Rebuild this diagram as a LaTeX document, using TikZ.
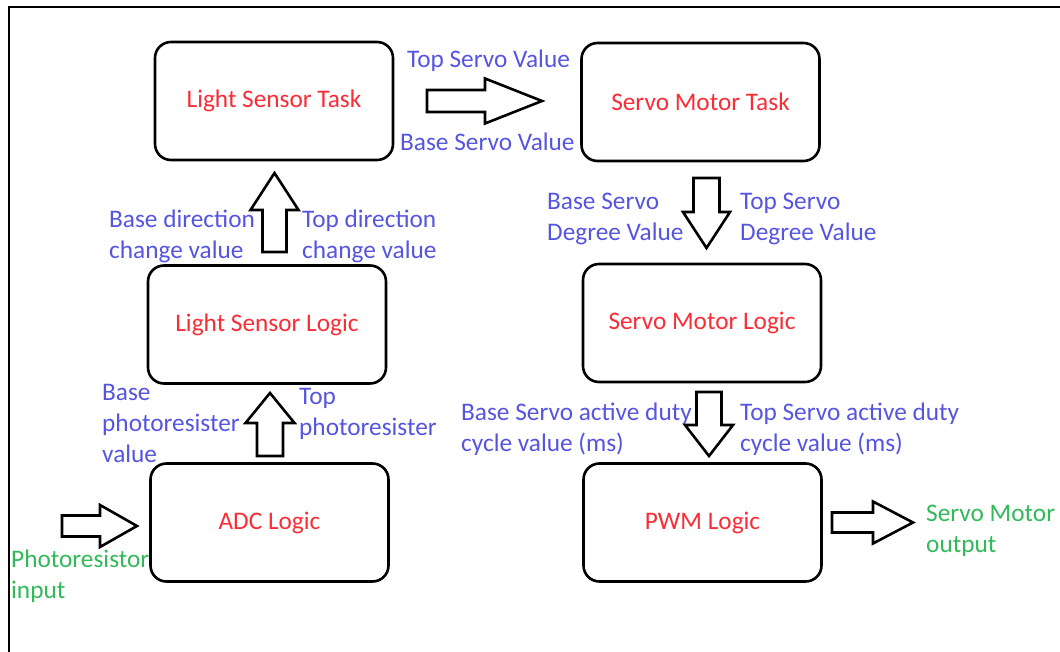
\documentclass[tikz,border=0pt]{standalone}
\usepackage{fontspec}
\setmainfont{Carlito}
\definecolor{boxred}{RGB}{250,45,55}
\definecolor{sigblue}{RGB}{85,85,225}
\definecolor{iogreen}{RGB}{50,185,90}
\begin{document}
\begin{tikzpicture}[x=1pt,y=-1pt,
  box/.style={draw,line width=2.6pt,rounded corners=16pt,fill=white,
    minimum width=238pt,minimum height=118pt,inner sep=0pt,
    text=boxred,font=\fontsize{25.3}{30}\selectfont},
  lbl/.style={anchor=north west,inner sep=0pt,align=left,text=sigblue,
    font=\fontsize{25.3}{31}\selectfont,
    execute at begin node={\rule{0pt}{19pt}}},
  iolbl/.style={lbl,text=iogreen},
  arrowline/.style={draw,fill=white,line width=2.6pt,line join=miter},
  pics/blockarrow/.style n args={4}{code={
    % #1 length, #2 head start, #3 half shaft width, #4 half head width
    \path[arrowline] (0,-#3) -- (#2,-#3) -- (#2,-#4) -- (#1,0)
      -- (#2,#4) -- (#2,#3) -- (0,#3) -- cycle;}}
]
\useasboundingbox (0,0) rectangle (1060,652);
\fill[white] (0,0) rectangle (1060,652);
% outer frame (top and left edges)
\draw[line width=2.5pt,line join=miter] (1060,7) -- (9,7) -- (9,652);

% signal labels
\node[lbl] (tsv) at (407,48) {Top Servo Value};
\node[lbl] (bsv) at (400,131) {Base Servo Value};
\node[lbl] (bdc) at (109,210) {Base direction\\change value};
\node[lbl] (tdc) at (302,210) {Top direction\\change value};
\node[lbl] (bsd) at (547,193) {Base Servo\\Degree Value};
\node[lbl] (tsd) at (740,193) {Top Servo\\Degree Value};
\node[lbl] (bpr) at (102,384) {Base\\photoresister\\value};
\node[lbl] (tpr) at (299,388) {Top\\photoresister\\[17pt]value};
\node[lbl] (bdu) at (461,403) {Base Servo active duty\\cycle value (ms)};
\node[lbl] (tdu) at (740,403) {Top Servo active duty\\cycle value (ms)};
\node[iolbl] (pin) at (11,550) {Photoresistor\\input};
\node[iolbl] (sout) at (926,505) {Servo Motor\\output};

% block arrows
\pic at (427,101) {blockarrow={115}{58}{11}{22.5}};
\pic[rotate=90] at (274.5,252) {blockarrow={79}{42}{12}{24}};
\pic[rotate=-90] at (706.5,178) {blockarrow={70}{34}{13}{23.5}};
\pic[rotate=90] at (270,456) {blockarrow={63}{33}{13}{24.5}};
\pic[rotate=-90] at (709,392) {blockarrow={64}{33}{12.5}{24}};
\pic at (62,526) {blockarrow={75}{38}{10.5}{21}};
\pic at (832,522.5) {blockarrow={81}{41}{10}{21}};

% processing blocks
\node[box] (lst) at (274,101) {Light Sensor Task};
\node[box] (smt) at (700.5,102) {Servo Motor Task};
\node[box] (lsl) at (267,324.5) {Light Sensor Logic};
\node[box] (sml) at (702,323) {Servo Motor Logic};
\node[box] (adc) at (269.5,522.5) {ADC Logic};
\node[box] (pwm) at (702.5,522.5) {PWM Logic};
\end{tikzpicture}
\end{document}
